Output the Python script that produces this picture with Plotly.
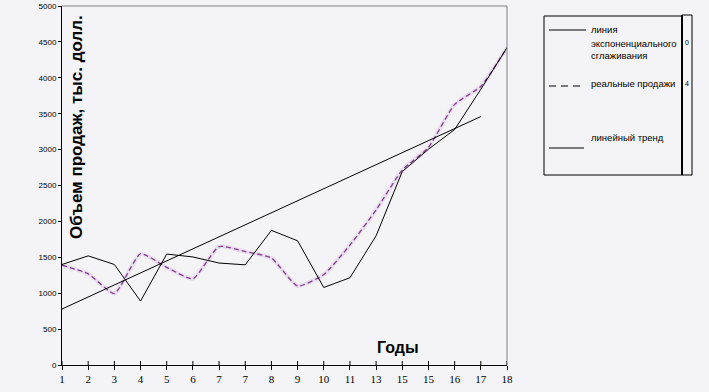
import plotly.graph_objects as go

# ---- data ----
year_labels = ["1", "2", "3", "4", "5", "6", "7", "7", "8", "9", "10", "11", "13", "15", "15", "16", "17", "18"]
smoothing = [1400, 1520, 1400, 890, 1545, 1505, 1420, 1395, 1875, 1730, 1080, 1215, 1800, 2695, 3005, 3280, 3840, 4420]
real_sales = [1390, 1270, 995, 1550, 1360, 1200, 1650, 1580, 1490, 1100, 1260, 1670, 2160, 2715, 3030, 3630, 3880, 4420]
trend_pos = [0, 16]
trend_vals = [780, 3460]
y_ticks = [0, 500, 1000, 1500, 2000, 2500, 3000, 3500, 4000, 4500, 5000]

legend_names = ["линия экспоненциального сглаживания", "реальные продажи", "линейный тренд"]

pos = list(range(len(year_labels)))

BG = "#f4f4f6"
PURPLE = "#84408f"

# plot area in pixels
L, R, T, B = 62, 507, 6, 365
W, H = 709, 392


def px(x):
    return (x - L) / (R - L)


def py(y):
    return (B - y) / (B - T)


fig = go.Figure()

# real sales: soft halo + dashed purple smoothed line
fig.add_trace(go.Scatter(x=pos, y=real_sales, mode="lines",
                         line=dict(color="rgba(205,170,220,0.3)", width=4, shape="spline", smoothing=0.5),
                         hoverinfo="skip", showlegend=False))
fig.add_trace(go.Scatter(x=pos, y=real_sales, mode="lines", name=legend_names[1],
                         line=dict(color=PURPLE, width=1.3, dash="5px,3px", shape="spline", smoothing=0.5),
                         showlegend=False))
# exponential smoothing
fig.add_trace(go.Scatter(x=pos, y=smoothing, mode="lines", name=legend_names[0],
                         line=dict(color="black", width=1), showlegend=False))
# linear trend
fig.add_trace(go.Scatter(x=trend_pos, y=trend_vals, mode="lines", name=legend_names[2],
                         line=dict(color="black", width=1), showlegend=False))

shapes = []
# top and right frame lines (grey)
shapes.append(dict(type="line", xref="paper", yref="paper", x0=0, x1=1, y0=1, y1=1,
                   line=dict(color="#808080", width=1)))
shapes.append(dict(type="line", xref="paper", yref="paper", x0=1, x1=1, y0=0, y1=1,
                   line=dict(color="#808080", width=1)))
# upward halves of x ticks (cross ticks)
for p in pos:
    shapes.append(dict(type="line", xref="x", yref="paper", x0=p, x1=p, y0=0, y1=4 / (B - T),
                       line=dict(color="black", width=1)))

# legend box
bx0, bx1, by0, by1 = 544, 682, 16, 175
shapes.append(dict(type="rect", xref="paper", yref="paper", x0=px(bx0), x1=px(bx1), y0=py(by1), y1=py(by0),
                   line=dict(color="black", width=1)))
shapes.append(dict(type="line", xref="paper", yref="paper", x0=px(682), x1=px(682), y0=py(175), y1=py(15),
                   line=dict(color="black", width=2)))
shapes.append(dict(type="line", xref="paper", yref="paper", x0=px(692), x1=px(692), y0=py(175), y1=py(15),
                   line=dict(color="black", width=1)))
shapes.append(dict(type="line", xref="paper", yref="paper", x0=px(682), x1=px(692), y0=py(15), y1=py(15),
                   line=dict(color="black", width=1)))
shapes.append(dict(type="line", xref="paper", yref="paper", x0=px(682), x1=px(692), y0=py(175), y1=py(175),
                   line=dict(color="black", width=1)))
# legend samples
shapes.append(dict(type="line", xref="paper", yref="paper", x0=px(549), x1=px(586), y0=py(30), y1=py(30),
                   line=dict(color="black", width=1)))
shapes.append(dict(type="line", xref="paper", yref="paper", x0=px(549), x1=px(583), y0=py(86), y1=py(86),
                   line=dict(color="black", width=1, dash="7px,5px")))
shapes.append(dict(type="line", xref="paper", yref="paper", x0=px(549), x1=px(584), y0=py(148), y1=py(148),
                   line=dict(color="black", width=1)))

annotations = []
leg_font = dict(family="Liberation Sans, Arial", size=9.5, color="black")
for txt, yy in [("линия", 30), ("экспоненциального", 43), ("сглаживания", 55),
                ("реальные продажи", 83), ("линейный тренд", 137)]:
    annotations.append(dict(text=txt, xref="paper", yref="paper", x=px(589), y=py(yy),
                            xanchor="left", yanchor="middle", showarrow=False, font=leg_font))
for txt, yy in [("0", 42), ("4", 83)]:
    annotations.append(dict(text=txt, xref="paper", yref="paper", x=px(687), y=py(yy),
                            xanchor="center", yanchor="middle", showarrow=False,
                            font=dict(family="Liberation Sans, Arial", size=7, color="black")))

# axis titles
annotations.append(dict(text="Объем продаж, тыс. долл.", xref="paper", yref="paper", x=px(76), y=py(127),
                        xanchor="center", yanchor="middle", textangle=-90, showarrow=False,
                        font=dict(family="Liberation Sans, Arial", size=17, color="black", weight="bold")))
annotations.append(dict(text="Годы", xref="paper", yref="paper", x=px(398), y=py(347),
                        xanchor="center", yanchor="middle", showarrow=False,
                        font=dict(family="Liberation Sans, Arial", size=16, color="black", weight="bold")))

fig.update_layout(
    width=W, height=H,
    margin=dict(l=L, r=W - R, t=T, b=H - B, pad=0),
    paper_bgcolor=BG, plot_bgcolor=BG,
    showlegend=False,
    shapes=shapes,
    annotations=annotations,
    xaxis=dict(range=[0, len(year_labels) - 1], tickmode="array", tickvals=pos, ticktext=year_labels,
               showgrid=False, zeroline=False, showline=True, linecolor="black", linewidth=1,
               ticks="outside", ticklen=4, tickcolor="black", automargin=False,
               tickfont=dict(family="Liberation Serif, Times New Roman", size=11, color="black")),
    yaxis=dict(range=[0, 5000], tickmode="array", tickvals=y_ticks,
               showgrid=False, zeroline=False, showline=True, linecolor="black", linewidth=1,
               ticks="outside", ticklen=3, tickcolor="black", automargin=False,
               tickfont=dict(family="Liberation Sans, Arial", size=8, color="black")),
)

fig.write_html("out.html", config={"displayModeBar": False},
               post_script="document.body.style.margin='0';document.body.style.padding='0';document.body.style.background='%s';" % BG)
